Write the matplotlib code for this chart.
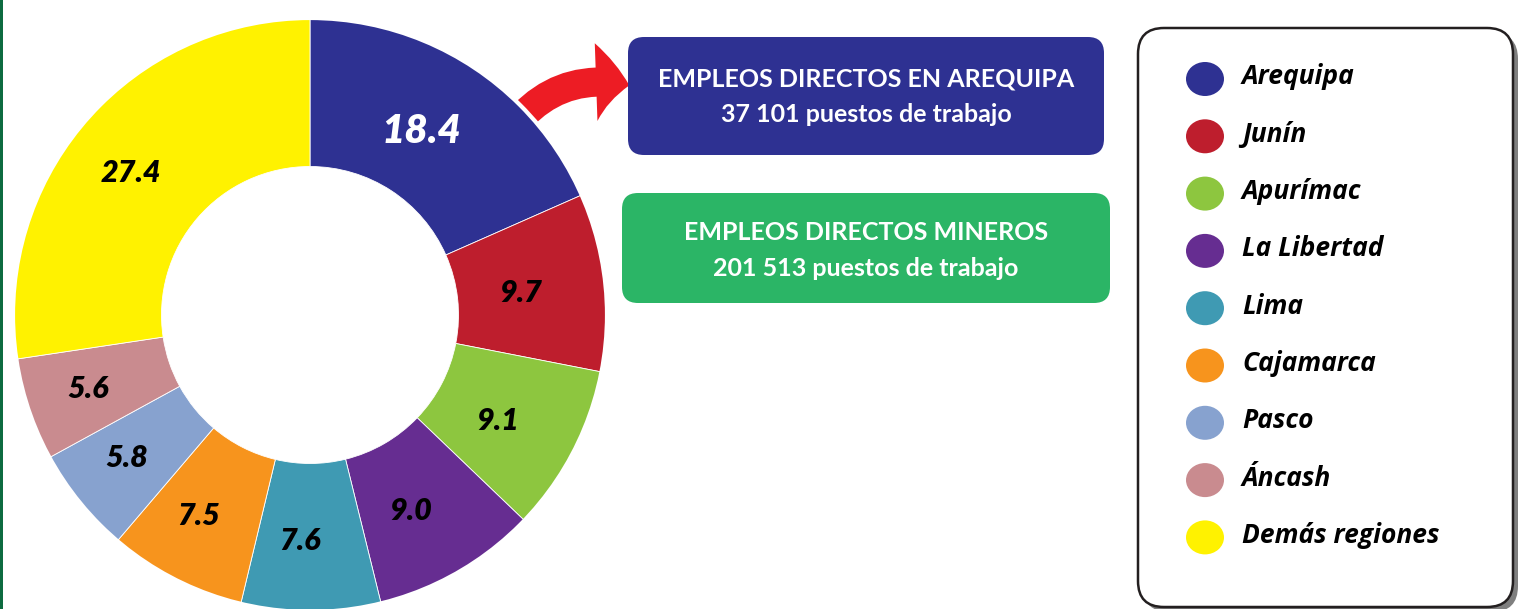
import numpy as np
import matplotlib
matplotlib.use("Agg")
import matplotlib.pyplot as plt
from matplotlib.patches import FancyBboxPatch, FancyArrowPatch, Ellipse, Rectangle, Circle

# Data
regions = ["Arequipa", "Junín", "Apurímac", "La Libertad", "Lima",
           "Cajamarca", "Pasco", "Áncash", "Demás regiones"]
shares = [18.4, 9.7, 9.1, 9.0, 7.6, 7.5, 5.8, 5.6, 27.4]
colors = ["#2e3192", "#be1e2d", "#8dc63f", "#662d91", "#3f9ab3",
          "#f7941d", "#87a2cf", "#c98b8f", "#fff200"]
box1_lines = ["EMPLEOS DIRECTOS EN AREQUIPA", "37 101 puestos de trabajo"]
box2_lines = ["EMPLEOS DIRECTOS MINEROS", "201 513 puestos de trabajo"]

W, H = 1518, 609
fig = plt.figure(figsize=(W / 100, H / 100), dpi=100)

# background layer in pixel coordinates
bg = fig.add_axes([0, 0, 1, 1])
bg.set_xlim(0, W)
bg.set_ylim(H, 0)
bg.axis("off")

bg.add_patch(Rectangle((0, 0), 3, H, color="#0d6b40", lw=0))

# arrow from Arequipa slice to box
arrow = FancyArrowPatch((512, 128), (632, 86),
                        connectionstyle="arc3,rad=-0.32",
                        arrowstyle="simple,head_length=24,head_width=56,tail_width=21",
                        color="#ed1c24", lw=0, mutation_scale=1)
bg.add_patch(arrow)

# info boxes
def info_box(x0, y0, x1, y1, fc, lines, ys):
    bg.add_patch(FancyBboxPatch((x0, y0), x1 - x0, y1 - y0,
                                boxstyle="round,pad=0,rounding_size=16",
                                fc=fc, ec="none"))
    cx = (x0 + x1) / 2
    for txt, y in zip(lines, ys):
        bg.text(cx, y, txt, ha="center", va="center", color="white",
                fontsize=18, fontweight="bold", family=["Lato", "DejaVu Sans"])

info_box(628, 37, 1104, 155, "#2e3192", box1_lines, [79, 114])
info_box(622, 193, 1110, 303, "#2bb566", box2_lines, [232, 268])

# legend box with shadow
bg.add_patch(FancyBboxPatch((1143, 33), 375, 579,
                            boxstyle="round,pad=0,rounding_size=26",
                            fc="#7f7f7f", ec="none"))
bg.add_patch(FancyBboxPatch((1138, 28), 375, 579,
                            boxstyle="round,pad=0,rounding_size=26",
                            fc="white", ec="#231f20", lw=1.8))
leg_y0, leg_dy = 77, 57.3
for i, (name, c) in enumerate(zip(regions, colors)):
    y = leg_y0 + i * leg_dy
    bg.add_patch(Ellipse((1205, y + 2), 38, 34, fc=c, ec="none"))
    bg.text(1242, y, name, ha="left", va="center", fontsize=19,
            fontweight="bold", fontstyle="italic", family=["Open Sans", "DejaVu Sans"])

# donut
cx, cy, R = 310, 315, 297
ax = fig.add_axes([(cx - R) / W, (H - cy - R) / H, 2 * R / W, 2 * R / H])
ax.patch.set_alpha(0)
wedges, _ = ax.pie(shares, colors=colors, startangle=90, counterclock=False,
                   radius=1, wedgeprops=dict(width=0.5, edgecolor="white", linewidth=0.6))
ax.add_patch(Circle((0, 0), 1.0, fill=False, ec="white", lw=3))
ax.set_xlim(-1, 1)
ax.set_ylim(-1, 1)
ax.set_aspect("equal")
ax.axis("off")

total = sum(shares)
cum = 0
for i, v in enumerate(shares):
    mid = 90 - (cum + v / 2) / total * 360
    cum += v
    r = 0.75
    x = r * np.cos(np.radians(mid)) - 0.035
    y = r * np.sin(np.radians(mid)) - 0.01
    big = i == 0
    ax.text(x, y, f"{v:.1f}", ha="center", va="center",
            color="white" if big else "black",
            fontsize=29 if big else 22, fontweight="heavy", fontstyle="italic",
            family=["Lato", "DejaVu Sans"])

fig.savefig("out.png", dpi=100)
